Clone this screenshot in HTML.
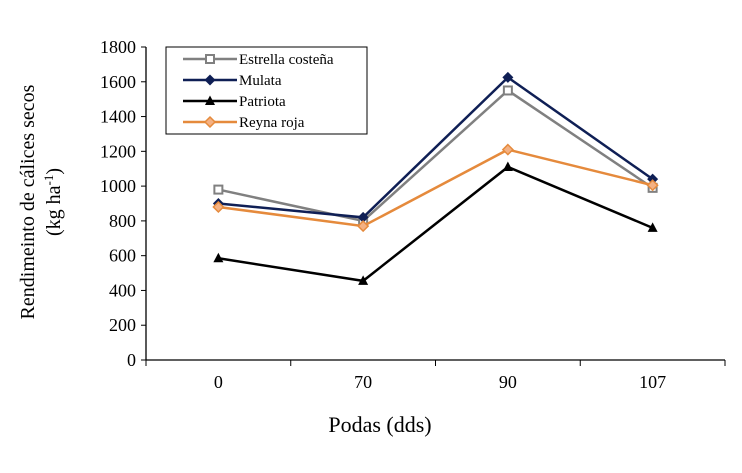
<!DOCTYPE html>
<html><head><meta charset="utf-8"><style>
body{margin:0;background:#fff}
svg text{font-family:"Liberation Serif",serif;fill:#000}
</style></head><body>
<svg id="chart" width="742" height="468" xmlns="http://www.w3.org/2000/svg">
<g id="axes"></g><g id="series"></g>
<text transform="translate(34,202) rotate(-90)" text-anchor="middle" font-size="20">Rendimeinto de cálices secos</text>
<text transform="translate(60,202) rotate(-90)" text-anchor="middle" font-size="20">(kg ha<tspan font-size="13" dy="-7">-1</tspan><tspan dy="7">)</tspan></text>
<text x="380" y="432" text-anchor="middle" font-size="22">Podas (dds)</text>
<g>
<rect x="166" y="47" width="201" height="87" fill="#fff" stroke="#000" stroke-width="1"/>
<g id="legend"></g>
</g>
</svg>
<script>
const categories=["0","70","90","107"];
const yTicks=[0,200,400,600,800,1000,1200,1400,1600,1800];
const estrella=[980,800,1550,990];
const mulata=[900,820,1625,1040];
const patriota=[585,455,1110,760];
const reyna=[880,770,1210,1005];
const seriesNames=["Estrella costeña","Mulata","Patriota","Reyna roja"];
const NS="http://www.w3.org/2000/svg";
const x0=146,x1=725,y0=360,yTop=47;
const xs=i=>x0+(x1-x0)/categories.length*(i+0.5);
const ys=v=>y0-(y0-yTop)*v/1800;
function mk(t,a,p){const e=document.createElementNS(NS,t);for(const k in a)e.setAttribute(k,a[k]);p.appendChild(e);return e;}
const ax=document.getElementById('axes');
const yl=mk('line',{x1:x0,y1:y0,x2:x0,y2:yTop,stroke:'#000','stroke-width':1.3},ax);


const xl=mk('line',{x1:x0,y1:y0,x2:x1,y2:y0,stroke:'#000','stroke-width':1.3},ax);


yTicks.forEach(v=>{const y=ys(v);
mk('line',{x1:x0-5,y1:y,x2:x0,y2:y,stroke:'#000'},ax);
const t=mk('text',{x:x0-10,y:y+6,'text-anchor':'end','font-size':18},ax);t.textContent=v;

});
for(let i=0;i<=categories.length;i++){const x=x0+(x1-x0)/categories.length*i;mk('line',{x1:x,y1:y0,x2:x,y2:y0+6,stroke:'#000'},ax);}
categories.forEach((c,i)=>{const t=mk('text',{x:xs(i),y:y0+28,'text-anchor':'middle','font-size':18},ax);t.textContent=c;

});
const cfg=[[estrella,'#808080','sq'],[mulata,'#0f1f55','dia'],[patriota,'#000','tri'],[reyna,'#e58a3c','dia2']];
function marker(type,x,y,c,p){
if(type==='sq'){mk('rect',{x:x-4,y:y-4,width:8,height:8,fill:'#fff',stroke:c,'stroke-width':2},p);}
else if(type==='dia'){mk('polygon',{points:`${x},${y-5.5} ${x+5.5},${y} ${x},${y+5.5} ${x-5.5},${y}`,fill:c},p);}
else if(type==='dia2'){mk('polygon',{points:`${x},${y-5} ${x+5},${y} ${x},${y+5} ${x-5},${y}`,fill:'#f4b183',stroke:c,'stroke-width':1.5},p);}
else {mk('polygon',{points:`${x},${y-5.5} ${x+5},${y+4} ${x-5},${y+4}`,fill:c},p);}
}
const sg=document.getElementById('series');
cfg.forEach((s,k)=>{const g=mk('g',{},sg);


mk('polyline',{points:s[0].map((v,i)=>xs(i)+','+ys(v)).join(' '),fill:'none',stroke:s[1],'stroke-width':2.5},g);
s[0].forEach((v,i)=>marker(s[2],xs(i),ys(v),s[1],g));});
const lg=document.getElementById('legend');
cfg.forEach((s,k)=>{const y=59+k*21;const g=mk('g',{},lg);


mk('line',{x1:183,y1:y,x2:237,y2:y,stroke:s[1],'stroke-width':2.5},g);
marker(s[2],210,y,s[1],g);
const t=mk('text',{x:239,y:y+5,'font-size':15},g);t.textContent=seriesNames[k];});
</script>
</body></html>
